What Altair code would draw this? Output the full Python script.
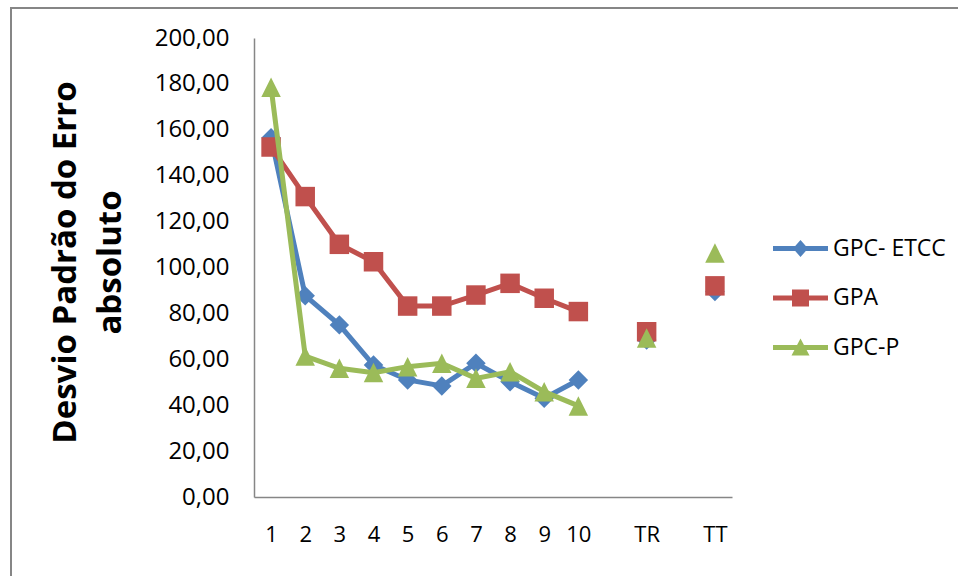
import altair as alt
import pandas as pd

categories = ["1", "2", "3", "4", "5", "6", "7", "8", "9", "10", "TR", "TT"]
axis_slots = ["1", "2", "3", "4", "5", "6", "7", "8", "9", "10", "_a", "TR", "_b", "TT"]
series_names = ["GPC- ETCC", "GPA", "GPC-P"]
gpc_etcc = [156.5, 87.7, 75.0, 57.5, 51.0, 48.4, 58.3, 50.2, 43.0, 51.0, 68.4, 89.5]
gpa = [152.5, 130.9, 110.1, 102.5, 83.2, 83.2, 88.0, 93.1, 86.6, 80.8, 72.0, 92.0]
gpc_p = [178.5, 61.4, 56.1, 54.2, 56.8, 58.3, 51.7, 54.6, 45.9, 39.7, 69.3, 106.3]
line_categories = ["1", "2", "3", "4", "5", "6", "7", "8", "9", "10"]
colors = ["#4F81BD", "#C0504D", "#9BBB59"]
marker_shapes = ["diamond", "square", "M0,-1L1,1L-1,1Z"]
legend_shapes = [
    "M-2.75,-0.25H2.75V0.25H-2.75Z M0,-0.85L0.75,0L0,0.85L-0.75,0Z",
    "M-2.75,-0.25H2.75V0.25H-2.75Z M-0.85,-0.85H0.85V0.85H-0.85Z",
    "M-2.75,-0.25H2.75V0.25H-2.75Z M0,-0.9L0.9,0.8L-0.9,0.8Z",
]

rows = []
for name, vals in zip(series_names, [gpc_etcc, gpa, gpc_p]):
    for c, v in zip(categories, vals):
        rows.append({"series": name, "cat": c, "value": v, "online": c in line_categories})
df = pd.DataFrame(rows)

FONT = "Open Sans"

x_enc = alt.X(
    "cat:N",
    sort=axis_slots,
    scale=alt.Scale(domain=axis_slots, type="point", padding=0.5),
    axis=alt.Axis(
        title=None,
        labelExpr="indexof(datum.value, '_') == 0 ? '' : datum.value",
        labelAngle=0,
        ticks=False,
        labelPadding=27,
        labelFontSize=22,
        labelFont=FONT,
        labelColor="#000000",
        domainColor="#868686",
        domainWidth=1.5,
        grid=False,
    ),
)
y_enc = alt.Y(
    "value:Q",
    scale=alt.Scale(domain=[0, 200], nice=False, zero=True),
    axis=alt.Axis(
        values=list(range(0, 201, 20)),
        labelExpr="replace(format(datum.value, '.2f'), '.', ',')",
        ticks=False,
        labelPadding=25,
        labelFontSize=24,
        labelFont=FONT,
        labelColor="#000000",
        domainColor="#868686",
        domainWidth=1.5,
        grid=False,
        title=["Desvio Padrão do Erro", "absoluto"],
        titleFont=FONT,
        titleFontSize=33,
        titleFontWeight="bold",
        titleColor="#000000",
        titleAngle=-90,
        titleAlign="center",
        titleBaseline="top",
        titleLineHeight=45,
        titleX=-205,
        titleY=224,
    ),
)

border = alt.Chart(alt.Data(values=[{}])).mark_rect(
    fill=None, stroke="#868686", strokeWidth=2, clip=False
).encode(
    x=alt.value(-243), x2=alt.value(730), y=alt.value(-30), y2=alt.value(560)
)

layers = [border]
for name, col, shp in zip(series_names, colors, marker_shapes):
    base = alt.Chart(df).transform_filter(alt.datum.series == name)
    layers.append(
        base.transform_filter("datum.online")
        .mark_line(strokeWidth=5, color=col)
        .encode(x=x_enc, y=y_enc)
    )
    layers.append(
        base.mark_point(filled=True, opacity=1, size=380, shape=shp, color=col, strokeWidth=0)
        .encode(x=x_enc, y=y_enc)
    )

legend_props = dict(
    title=None,
    orient="none",
    legendX=535,
    legendY=199,
    padding=0,
    symbolSize=400,
    symbolStrokeWidth=0,
    symbolOpacity=1,
    labelOffset=21,
    labelFontSize=23,
    labelFont=FONT,
    labelColor="#000000",
    rowPadding=25.5,
)

legend_layer = (
    alt.Chart(df)
    .transform_filter("false")
    .mark_point(filled=True, opacity=1)
    .encode(
        x=x_enc,
        y=y_enc,
        color=alt.Color(
            "series:N",
            scale=alt.Scale(domain=series_names, range=colors),
            legend=alt.Legend(**legend_props),
        ),
        shape=alt.Shape(
            "series:N",
            scale=alt.Scale(domain=series_names, range=legend_shapes),
            legend=alt.Legend(**legend_props),
        ),
    )
)
layers.append(legend_layer)

chart = (
    alt.layer(*layers)
    .properties(
        width=478,
        height=459,
        autosize=alt.AutoSizeParams(type="none"),
        padding={"left": 254, "top": 38, "right": 226, "bottom": 79},
    )
    .configure(background="#ffffff")
    .configure_view(stroke=None)
)

chart.save("out.html", embed_options={"renderer": "svg", "actions": False})
